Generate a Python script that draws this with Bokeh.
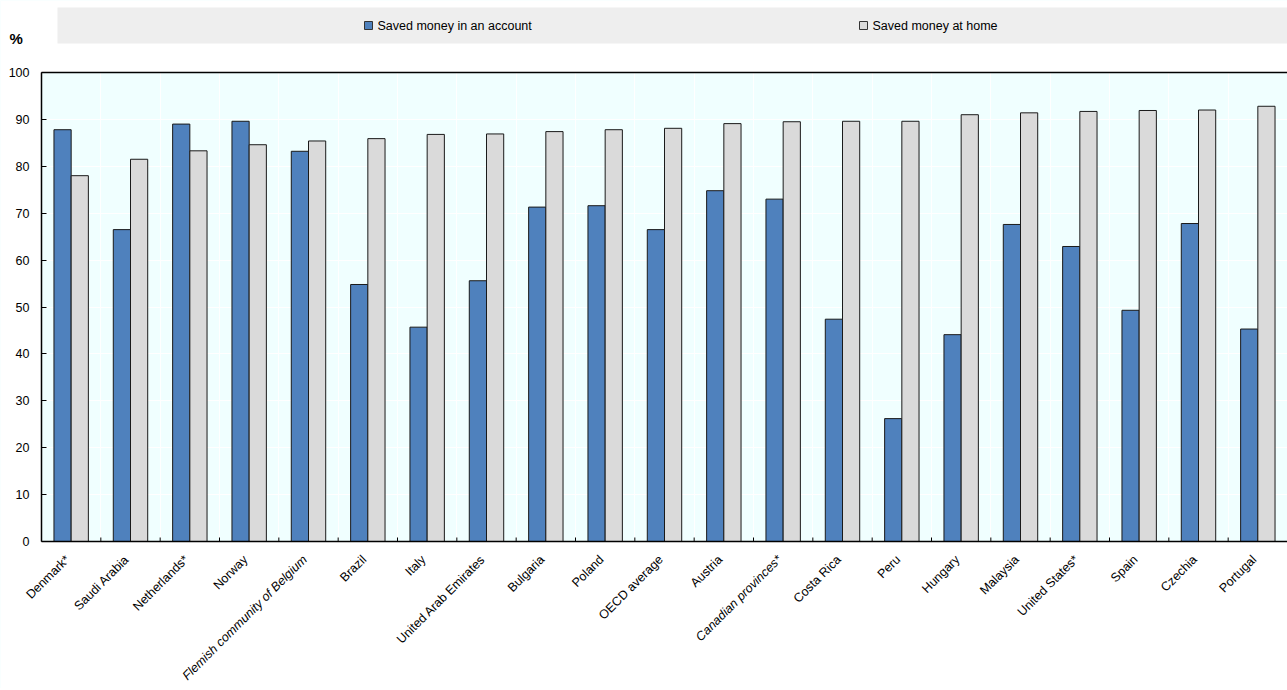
import numpy as np
from math import pi
from bokeh.plotting import figure
from bokeh.models import ColumnDataSource, Range1d, FixedTicker
from bokeh.transform import dodge
from bokeh.embed import file_html
from bokeh.resources import INLINE
from bokeh.core.properties import value

countries = ["Denmark*", "Saudi Arabia", "Netherlands*", "Norway",
             "Flemish community of Belgium", "Brazil", "Italy",
             "United Arab Emirates", "Bulgaria", "Poland", "OECD average",
             "Austria", "Canadian provinces*", "Costa Rica", "Peru", "Hungary",
             "Malaysia", "United States*", "Spain", "Czechia", "Portugal"]
italic_labels = ["Flemish community of Belgium", "Canadian provinces*"]
in_account = [87.8, 66.5, 89.0, 89.6, 83.2, 54.8, 45.7, 55.6, 71.3, 71.6, 66.5,
              74.8, 73.0, 47.4, 26.2, 44.1, 67.6, 62.9, 49.3, 67.8, 45.3]
at_home = [78.0, 81.5, 83.3, 84.6, 85.4, 85.9, 86.8, 86.9, 87.4, 87.8, 88.1,
           89.1, 89.5, 89.6, 89.6, 91.0, 91.4, 91.7, 91.9, 92.0, 92.8]
series_names = ["Saved money in an account", "Saved money at home"]
y_ticks = list(range(0, 101, 10))
unit_label = "%"

FONT = "Liberation Sans"
BLUE = "#4F81BD"
GRAY = "#DADADA"
BG = "#F0FFFF"

# ---- layout constants (pixels) ----
W, H = 1287, 688
FRAME_L = 41          # left edge of the plotting band
Y0_PX, Y100_PX = 541, 72
PPU = (Y0_PX - Y100_PX) / 100.0
n = len(countries)
STEP = (W - FRAME_L) / n

def px2x(px):
    return (px - FRAME_L) / STEP

def py2y(py):
    return (Y0_PX - py) / PPU

x_start, y_start, y_end = px2x(0), py2y(H), py2y(0)

p = figure(width=W, height=H, x_range=Range1d(x_start, n), y_range=Range1d(y_start, y_end),
           toolbar_location=None, output_backend="svg", x_axis_location=None,
           min_border_left=0, min_border_right=0, min_border_top=0, min_border_bottom=0)
p.background_fill_color = BG
p.border_fill_color = "white"
p.outline_line_color = None

# white areas outside the plotting band
p.quad(left=[x_start, x_start, x_start], right=[n, n, 0],
       bottom=[y_start, 100, 0], top=[0, y_end, 100],
       fill_color="white", line_color=None)

src = ColumnDataSource(dict(x=np.arange(n) + 0.5, acc=in_account, home=at_home))
p.vbar(x=dodge("x", -0.145, range=p.x_range), top="acc", width=0.29, source=src,
       fill_color=BLUE, line_color="#1a1a1a", line_width=1)
p.vbar(x=dodge("x", 0.145, range=p.x_range), top="home", width=0.29, source=src,
       fill_color=GRAY, line_color="#1a1a1a", line_width=1)

# frame top line and x axis line
p.segment(x0=[0, 0], y0=[100, 0], x1=[n, n], y1=[100, 0], line_color="black", line_width=1.5)

# inner x-axis ticks at category boundaries
boundaries = np.arange(1, n + 1)
p.segment(x0=boundaries, y0=np.zeros(n), x1=boundaries, y1=np.full(n, 4 / PPU),
          line_color="black", line_width=1)

# y axis, fixed at the left edge of the band
p.yaxis.fixed_location = 0
p.yaxis.ticker = FixedTicker(ticks=y_ticks)
p.yaxis.bounds = (0, 100)
p.yaxis.major_tick_in = 5
p.yaxis.major_tick_out = 0
p.yaxis.minor_tick_line_color = None
p.yaxis.axis_line_color = "black"
p.yaxis.axis_line_width = 1.5
p.yaxis.major_tick_line_color = "black"
p.yaxis.major_label_text_font = FONT
p.yaxis.major_label_text_font_size = "12.5px"
p.yaxis.major_label_text_color = "black"
p.yaxis.major_label_standoff = 12

# grids
p.xgrid.ticker = FixedTicker(ticks=list(range(1, n)))
p.xgrid.grid_line_color = "white"
p.ygrid.ticker = FixedTicker(ticks=y_ticks)
p.ygrid.grid_line_color = "white"

# category labels
lab = ColumnDataSource(dict(x=np.arange(n) + 0.44, y=np.full(n, py2y(557)), text=countries,
                            style=["italic" if c in italic_labels else "normal" for c in countries]))
p.text(x="x", y="y", text="text", source=lab, angle=pi / 4, text_align="right",
       text_baseline="middle", text_font=value(FONT), text_font_size="12.5px",
       text_font_style="style", text_color="black")

# unit label
p.text(x=[px2x(9)], y=[py2y(38)], text=[unit_label], text_font=value(FONT),
       text_font_size="15px", text_font_style="bold", text_baseline="middle",
       text_color="black")

# legend strip
p.quad(left=[px2x(57)], right=[n], bottom=[py2y(43)], top=[py2y(7)],
       fill_color="#EEEEEE", line_color=None)
p.rect(x=[px2x(368), px2x(863)], y=[py2y(25), py2y(25)], width=8, height=8,
       width_units="screen", height_units="screen",
       fill_color=[BLUE, GRAY], line_color="#333333", line_width=1)
p.text(x=[px2x(377), px2x(872)], y=[py2y(25), py2y(25)], text=series_names,
       text_font=value(FONT), text_font_size="12.5px", text_baseline="middle",
       text_color="black")

open("out.html", "w").write(file_html(p, INLINE))
